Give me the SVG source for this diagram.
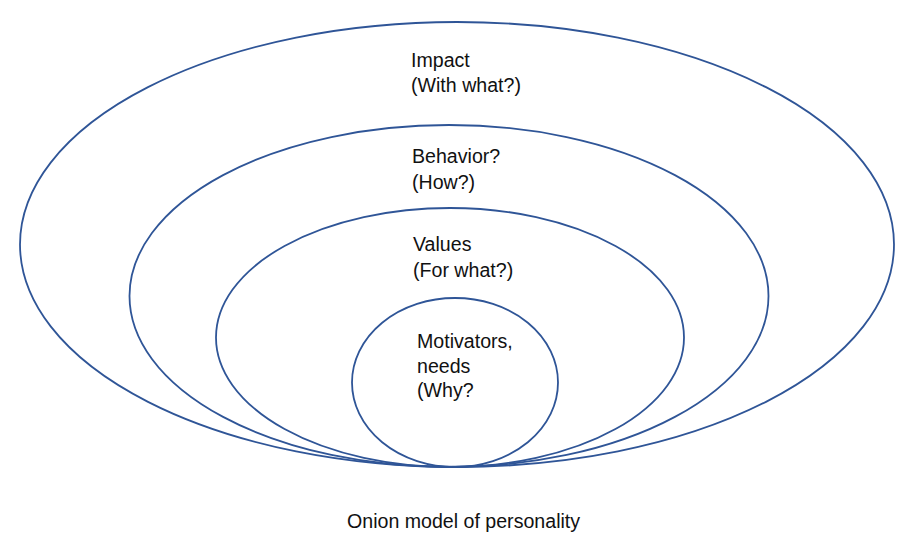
<svg xmlns="http://www.w3.org/2000/svg" width="912" height="555" viewBox="0 0 912 555">
<style>
.ring{fill:none;stroke:#2F5597;stroke-width:1.8}
.t{font-family:"Liberation Sans",Arial,sans-serif;font-size:19.6px;fill:#111}
</style>
<rect width="912" height="555" fill="#fff"/>
<g id="impact">
<ellipse class="ring" cx="457" cy="244.5" rx="437" ry="222.5"/>
<text class="t" x="411" y="67">Impact</text>
<text class="t" x="411" y="92">(With what?)</text>
</g>
<g id="behavior">
<ellipse class="ring" cx="449" cy="296" rx="319.5" ry="171"/>
<text class="t" x="412" y="163">Behavior?</text>
<text class="t" x="412" y="189">(How?)</text>
</g>
<g id="values">
<ellipse class="ring" cx="450" cy="337.5" rx="234" ry="129.5"/>
<text class="t" x="413" y="251">Values</text>
<text class="t" x="413" y="277">(For what?)</text>
</g>
<g id="motivators">
<ellipse class="ring" cx="455" cy="382.5" rx="103" ry="84.5"/>
<text class="t" x="417" y="348">Motivators,</text>
<text class="t" x="417" y="373">needs</text>
<text class="t" x="417" y="397">(Why?</text>
</g>
<g id="connectors"/>
<text class="t" x="347" y="528">Onion model of personality</text>
</svg>
